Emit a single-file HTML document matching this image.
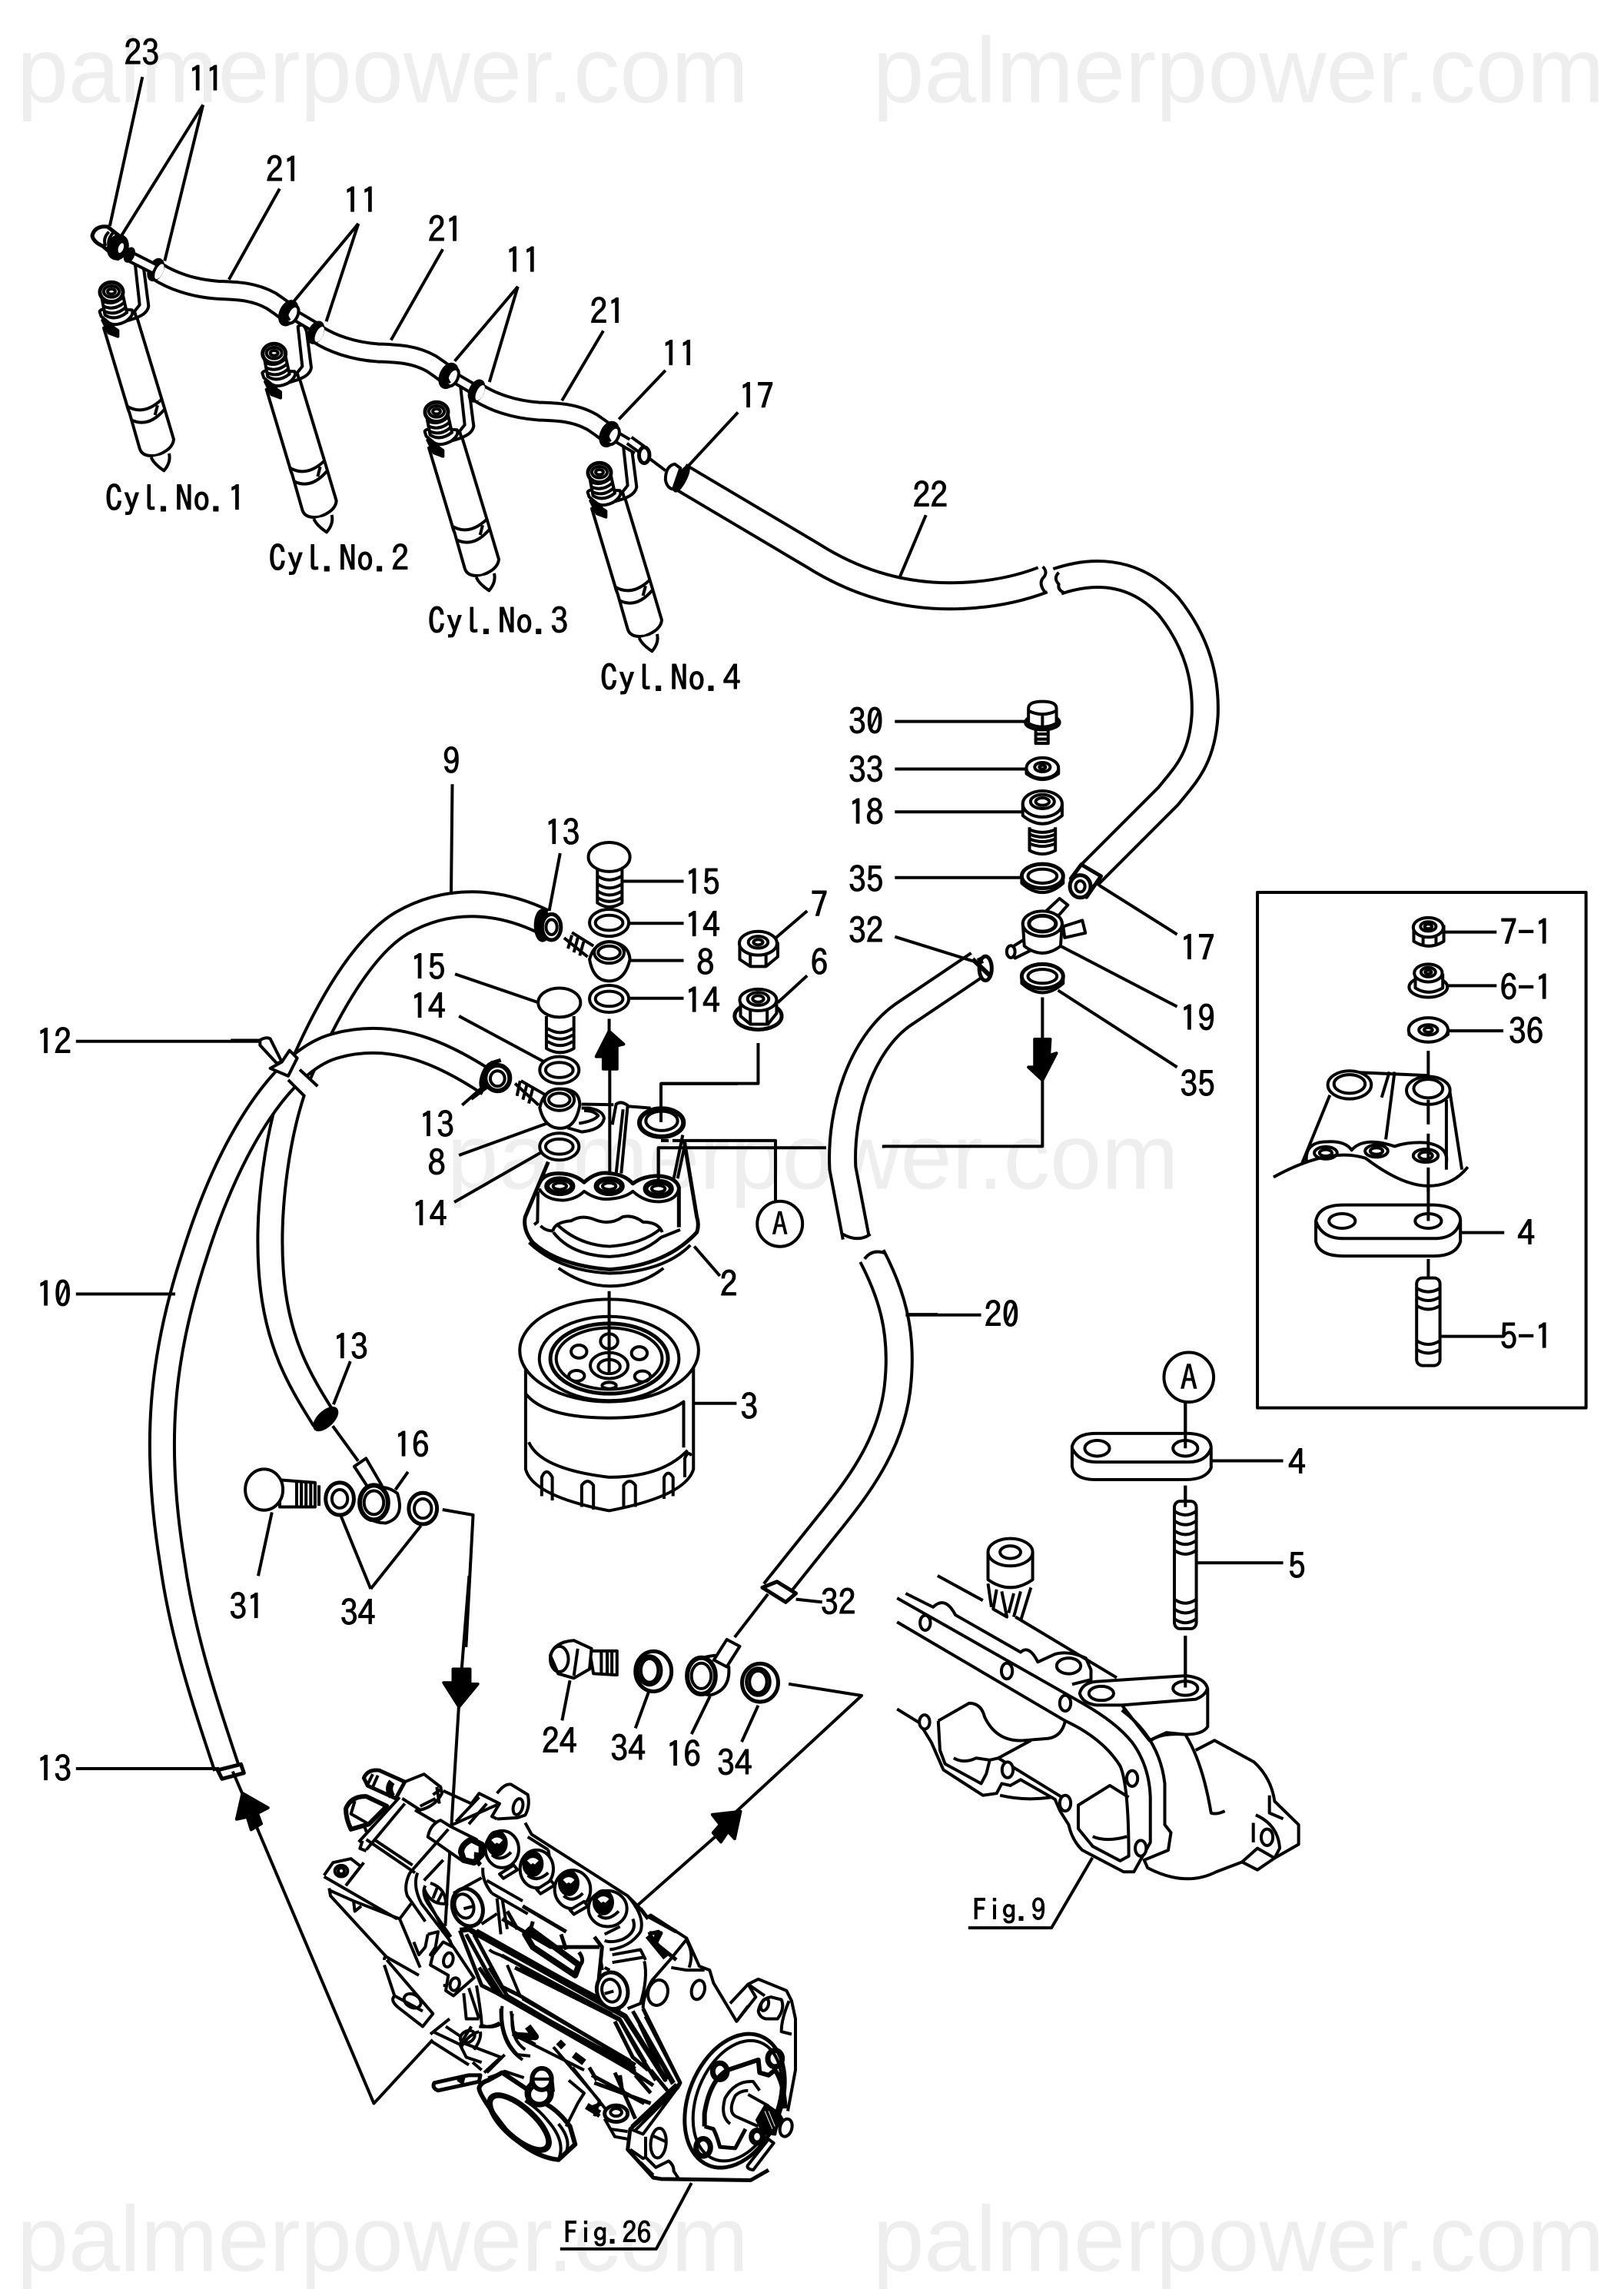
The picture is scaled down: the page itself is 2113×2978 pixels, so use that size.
<!DOCTYPE html>
<html><head><meta charset="utf-8"><style>
html,body{margin:0;padding:0;background:#fff}
svg{display:block}
svg *{vector-effect:non-scaling-stroke}
.w text{font-family:"Liberation Sans",sans-serif;font-size:63.5px;fill:#eeeeee;stroke:none}
.l text{font-family:"IPAGothic","Liberation Sans",sans-serif;font-size:24px;fill:#000;stroke:#000;stroke-width:1px;text-anchor:middle}
.f{fill:#fff}.k{fill:#000}.t{stroke-width:6}.n{stroke-width:3}
</style></head><body>
<svg xmlns="http://www.w3.org/2000/svg" width="2113" height="2978" viewBox="0 0 1112 1567.3" preserveAspectRatio="none" fill="none" stroke="#000" stroke-width="4" stroke-linejoin="round">
<defs>
<path id="t9" d="M372,631 C345,618 310,612 275,632 C245,650 220,700 205,735 C190,770 182,830 186,875 C190,920 205,945 222,972"/>
<path id="t10" d="M335,742 C305,722 270,705 230,716 C195,725 158,780 133,860 C110,930 105,990 118,1070 C125,1120 140,1165 155,1210"/>
<path id="t22a" d="M465,326 L556,380 Q600,408 650,408 Q685,408 714,397"/>
<path id="t22b" d="M724,398 C745,391 775,388 800,415 C820,440 826,465 825,490 C823,520 812,530 800,545 L745,600"/>
<path id="t20a" d="M670,660 L618,695 C590,715 575,760 577,800 L586,847"/>
<path id="t20b" d="M597,860 C610,885 618,910 615,945 C612,985 590,1015 570,1040 L530,1090"/>
<g id="inj">
<path class="f" d="M228,225 L245,380 L225,405 L232,430 Q275,415 280,385 L262,245 Q250,205 228,225 Z"/>
<path class="f" d="M105,470 L195,770 Q200,790 205,800 L245,940 Q255,975 310,968 Q375,945 378,905 L335,760 L235,430 Z"/>
<path d="M195,775 Q260,815 330,750 M215,830 Q280,860 340,790 M315,772 L305,810"/>
<path class="f" d="M290,975 Q300,1000 340,1027 Q368,995 360,960"/>
<path class="f" d="M90,410 Q85,400 110,395 L215,400 Q225,420 190,445 Q150,465 125,450 L95,425 Z"/>
<path class="k" d="M100,440 L160,480 L160,503 L125,490 L115,470 Z"/>
<path class="f" d="M95,340 L110,420 Q150,445 195,410 L175,320 Z"/>
<path d="M100,365 Q140,385 180,350 M104,385 Q145,405 186,370 M108,405 Q150,425 190,390"/>
<ellipse cx="135" cy="330" rx="45" ry="38" class="f" stroke-width="5"/><ellipse cx="135" cy="328" rx="30" ry="22"/><ellipse cx="135" cy="328" rx="15" ry="10"/>
</g>
<g id="seg">
<path d="M315,250 C370,285 450,315 550,322 C620,325 690,325 760,365 Q790,385 820,408" stroke-width="27"/>
<path d="M315,250 C370,285 450,315 550,322 C620,325 690,325 760,365 Q790,385 820,408" stroke="#fff" stroke-width="19"/>
<ellipse cx="308" cy="243" rx="24" ry="42" class="k" transform="rotate(25 308 243)"/>
<ellipse cx="322" cy="250" rx="14" ry="32" class="f" stroke="none" transform="rotate(25 322 250)"/>
<path d="M850,420 L935,470" stroke-width="16"/><path d="M850,420 L935,470" stroke="#fff" stroke-width="8"/>
<ellipse cx="826" cy="412" rx="30" ry="48" class="k" transform="rotate(25 826 412)"/>
<ellipse cx="842" cy="418" rx="20" ry="36" class="f" transform="rotate(25 842 418)"/>
<path d="M825,395 Q815,420 832,440" stroke-width="3"/>
</g>
</defs>

<g class="w">
<text x="11.5" y="70">palmerpower.com</text>
<text x="597.5" y="70">palmerpower.com</text>
<text x="306" y="814">palmerpower.com</text>
<text x="11.5" y="1555">palmerpower.com</text>
<text x="597.5" y="1555">palmerpower.com</text>
</g>

<g transform="scale(.3546,.319)">
<path d="M275,165 L212,485 M392,225 L235,505 M392,225 L318,560 M540,405 L442,600 M692,480 L565,650 M692,480 L630,690 M855,535 L755,730 M1000,615 L878,775 M1000,615 L945,820 M1165,710 L1085,860 M1285,795 L1195,900 M1425,885 L1325,1005"/>
</g>

<g transform="scale(.52626) translate(100,270) scale(.33333)">
<use href="#inj"/><use href="#inj" transform="translate(635,240)"/><use href="#inj" transform="translate(1269,468)"/><use href="#inj" transform="translate(1905,705)"/>
<use href="#seg"/><use href="#seg" transform="translate(625,245)"/><use href="#seg" transform="translate(1252,473)"/>
<path d="M205,190 L300,238" stroke-width="16"/><path d="M205,190 L300,238" stroke="#fff" stroke-width="8"/>
<ellipse cx="205" cy="185" rx="14" ry="26" class="k" transform="rotate(25 205 185)"/>
<path class="f" d="M120,75 Q70,70 60,110 Q65,135 100,150 L160,200 L190,130 Z" stroke-width="5"/>
<path d="M125,95 Q100,120 112,150 M140,100 Q115,130 128,162"/>
<ellipse cx="160" cy="155" rx="36" ry="46" class="k" transform="rotate(20 160 155)"/>
<ellipse cx="172" cy="158" rx="16" ry="26" class="f" transform="rotate(20 172 158)"/>
</g>
<g transform="scale(.3546,.319)">
<path d="M1215,945 L1240,965" stroke-width="14"/><path d="M1215,945 L1240,965" stroke="#fff" stroke-width="6"/>
<ellipse cx="1244" cy="977" rx="10" ry="17" class="f" stroke-width="5"/>
<path d="M1255,985 L1285,1010"/>
</g>

<use href="#t22a" stroke-width="38"/><use href="#t22a" stroke="#fff" stroke-width="30"/>
<use href="#t22b" stroke-width="38"/><use href="#t22b" stroke="#fff" stroke-width="30"/>
<use href="#t20a" stroke-width="38"/><use href="#t20a" stroke="#fff" stroke-width="30"/>
<use href="#t20b" stroke-width="38"/><use href="#t20b" stroke="#fff" stroke-width="30"/>
<use href="#t9" stroke-width="36"/><use href="#t9" stroke="#fff" stroke-width="28"/>
<use href="#t10" stroke-width="36"/><use href="#t10" stroke="#fff" stroke-width="28"/>
<path d="M714,388 Q718,392 714,396 Q711,400 716,406 M725,392 Q721,396 725,400 Q724,404 729,406 M577,845 Q588,851 596,845 M592,862 Q597,855 606,858"/>
<g transform="scale(.3546,.319)">
<ellipse cx="1316" cy="1028" rx="7" ry="28" class="k" transform="rotate(25 1316 1028)"/>
<path class="f" d="M1285,1030 Q1285,1000 1303,996 L1314,1005 L1300,1050 Q1288,1048 1285,1030 Z"/>
</g>

<!-- Z2 -->
<g transform="translate(556,316) scale(.3546,.319)">
<path d="M220,115 L168,252"/>
<path d="M160,558 L415,558 M160,660 L412,660 M160,752 L405,752 M160,893 L405,893 M160,1020 L310,1072 M555,910 L705,1015 M480,1040 L705,1170 M475,1135 L705,1300"/>
<path d="M445,1150 L445,1470 L138,1470"/>
<path class="k" d="M430,1240 L460,1240 L458,1275 L472,1270 L445,1328 L418,1300 L430,1300 Z"/>
<path class="f" d="M432,570 L432,605 L456,605 L456,570"/><path d="M432,585 L456,585 M432,596 L456,596"/>
<ellipse cx="445" cy="560" rx="33" ry="16" class="f"/>
<path class="f" d="M418,530 Q418,515 445,515 Q472,515 472,530 L472,562 Q445,578 418,562 Z"/><path d="M418,535 Q445,550 472,535 M445,545 L445,570"/>
<path class="f" d="M414,660 L414,670 Q445,695 476,670 L476,660"/>
<ellipse cx="445" cy="658" rx="31" ry="22" class="f"/><ellipse cx="445" cy="656" rx="15" ry="10"/><ellipse cx="445" cy="656" rx="6" ry="4"/>
<path class="f" d="M420,785 L420,835 Q445,850 470,835 L470,785"/>
<path d="M420,800 Q445,812 470,800 M420,810 Q445,822 470,810 M420,820 Q445,832 470,820 M420,790 Q445,802 470,790"/>
<path class="f" d="M407,735 L407,760 Q445,795 483,760 L483,735"/>
<ellipse cx="445" cy="735" rx="38" ry="28" class="f"/><ellipse cx="445" cy="730" rx="23" ry="15"/><ellipse cx="445" cy="730" rx="13" ry="8"/>
<path class="f" d="M405,890 L405,905 Q445,945 485,905 L485,890"/><ellipse cx="445" cy="890" rx="40" ry="26" class="f" stroke-width="5"/><ellipse cx="445" cy="890" rx="28" ry="15"/>
<path class="f" d="M405,1105 L405,1120 Q445,1160 485,1120 L485,1105"/><ellipse cx="445" cy="1105" rx="40" ry="26" class="f" stroke-width="5"/><ellipse cx="445" cy="1105" rx="28" ry="15"/>
<path class="f" d="M500,895 L520,865 L558,890 L530,935 Z" stroke-width="5"/>
<ellipse cx="518" cy="912" rx="20" ry="24" class="f" stroke-width="5"/><ellipse cx="518" cy="912" rx="9" ry="12"/>
<path class="f" d="M452,965 L478,938 L494,952 L470,982 Z M485,998 L522,985 L528,1012 L488,1022 Z M378,1048 L415,1022 L425,1048 L392,1066 Z"/>
<path class="f" d="M407,990 L410,1040 Q445,1070 480,1040 L483,990"/>
<ellipse cx="445" cy="992" rx="38" ry="27" class="f"/><ellipse cx="445" cy="992" rx="26" ry="17" stroke-width="5"/>
<ellipse cx="384" cy="1052" rx="8" ry="13" class="f"/>
<ellipse cx="335" cy="1088" rx="12" ry="26" class="f" stroke-width="5"/>
<path d="M310,1068 L345,1105 M322,1065 L328,1078" stroke-width="6"/>
<path class="f" d="M1162,995 L1162,1030 Q1190,1050 1220,1030 L1220,995"/><path d="M1180,1038 L1180,1005 M1205,1036 L1205,1005"/>
<ellipse cx="1190" cy="1000" rx="29" ry="21" class="f"/><ellipse cx="1190" cy="998" rx="15" ry="10"/><ellipse cx="1190" cy="998" rx="7" ry="5"/>
<path d="M1222,1010 L1322,1010"/>
<ellipse cx="1190" cy="1128" rx="37" ry="22" class="f"/>
<path class="f" d="M1165,1100 L1165,1130 Q1190,1148 1218,1130 L1218,1100"/>
<ellipse cx="1190" cy="1098" rx="27" ry="19" class="f"/><ellipse cx="1190" cy="1096" rx="14" ry="10"/><ellipse cx="1190" cy="1096" rx="6" ry="4"/>
<path d="M1228,1125 L1322,1125"/>
<path class="f" d="M1153,1222 L1153,1230 Q1190,1262 1228,1230 L1228,1222"/>
<ellipse cx="1190" cy="1220" rx="38" ry="26" class="f"/><ellipse cx="1190" cy="1220" rx="18" ry="11"/><ellipse cx="1190" cy="1220" rx="8" ry="5"/>
<path d="M1228,1222 L1335,1222 M1190,1265 L1190,1348"/>
<path d="M1000,1360 L945,1510 M1030,1310 L1190,1318 M1232,1355 L1255,1520 M1225,1370 L1225,1520 M1115,1310 L1100,1365 M1125,1310 L1108,1455"/>
<ellipse cx="1038" cy="1338" rx="42" ry="30" class="f"/><ellipse cx="1038" cy="1336" rx="30" ry="20"/>
<ellipse cx="1190" cy="1350" rx="42" ry="30" class="f"/><ellipse cx="1190" cy="1346" rx="28" ry="20"/>
<path d="M1190,1370 L1190,1570" stroke-dasharray="32,12"/>
<path d="M955,1505 Q950,1460 995,1460 Q1030,1458 1042,1478 Q1065,1448 1125,1470 Q1150,1460 1185,1462 Q1230,1470 1225,1505"/>
<ellipse cx="992" cy="1484" rx="22" ry="13"/><ellipse cx="992" cy="1484" rx="12" ry="7"/>
<ellipse cx="1090" cy="1480" rx="22" ry="13"/><ellipse cx="1090" cy="1480" rx="12" ry="7"/>
<ellipse cx="1185" cy="1490" rx="24" ry="14"/><ellipse cx="1185" cy="1490" rx="13" ry="8"/>
</g>
<rect x="861" y="611" width="225" height="353" stroke-width="4"/>
<path d="M872,806 Q910,785 935,793 Q960,812 978,812 Q995,812 1005,799"/>
<path class="f" d="M901,836 Q903,825 920,825 L982,825 Q1000,826 1000,836 L1000,850 Q997,860 982,860 L920,860 Q903,860 901,850 Z"/>
<path d="M901,836 Q905,848 920,848 L982,848 Q997,848 1000,836"/>
<ellipse cx="919" cy="836" rx="9" ry="5"/><ellipse cx="978" cy="836" rx="9" ry="5"/>
<path d="M1000,844 L1030,844 M978,812 L978,836 M978,862 L978,876 M987,915 L1030,915"/>
<rect x="970" y="875" width="16" height="60" rx="4" class="f"/>
<path d="M970,882 Q978,887 986,882 M970,888 Q978,893 986,888 M970,894 Q978,899 986,894 M970,918 Q978,923 986,918 M970,924 Q978,929 986,924"/>

<!-- Z3 -->
<g transform="translate(158,500) scale(.2685,.3693)">
<path d="M565,100 L562,305 M840,228 L812,335 M1000,280 L1155,280 M1015,358 L1155,358 M1015,427 L1155,427 M1015,497 L1155,497 M1470,335 L1390,385 M1470,455 L1395,505"/>
<path d="M572,452 L785,505 M582,530 L800,615 M590,695 L645,660 M582,788 L810,728 M570,875 L810,775"/>
<path d="M0,575 L75,575"/>
<path d="M1345,580 L1345,655 L1097,655"/>
<path class="k" d="M965,558 L1002,582 L985,585 L985,628 L950,628 L950,605 L932,605 Z"/>
<path d="M965,535 L965,560"/>
<path class="f" d="M1298,395 L1298,425 L1325,438 L1365,438 L1395,420 L1395,395 Z"/><path d="M1325,408 L1325,438 M1365,408 L1365,438"/>
<ellipse cx="1345" cy="395" rx="48" ry="22" class="f"/><ellipse cx="1345" cy="393" rx="25" ry="11"/><ellipse cx="1345" cy="393" rx="12" ry="5"/>
<ellipse cx="1345" cy="530" rx="60" ry="25" class="f" stroke-width="5"/>
<path class="f" d="M1300,500 L1300,530 L1325,545 L1370,545 L1392,525 L1392,500 Z"/><path d="M1325,515 L1325,545 M1368,515 L1368,545"/>
<ellipse cx="1345" cy="500" rx="47" ry="20" class="f"/><ellipse cx="1345" cy="498" rx="27" ry="12"/><ellipse cx="1345" cy="498" rx="14" ry="6"/>
<path class="f" d="M935,255 L935,320 Q965,335 998,320 L998,255"/>
<path d="M935,285 Q965,300 998,285 M935,298 Q965,313 998,298 M935,310 Q965,325 998,310 M935,270 Q965,285 998,270"/>
<ellipse cx="965" cy="235" rx="53" ry="27" class="f"/>
<ellipse cx="965" cy="357" rx="50" ry="25" class="f"/><ellipse cx="965" cy="357" rx="35" ry="14"/>
<path d="M850,385 L910,420 M870,375 L925,400 M870,380 L860,405 M885,385 L875,412 M900,392 L890,418"/>
<path class="f" d="M915,425 Q925,395 965,392 Q1015,395 1018,425 Q1005,465 965,465 Q925,465 915,425 Z"/>
<ellipse cx="965" cy="412" rx="38" ry="20"/><ellipse cx="965" cy="412" rx="28" ry="12"/>
<ellipse cx="965" cy="498" rx="50" ry="25" class="f"/><ellipse cx="965" cy="498" rx="35" ry="14"/>
<ellipse cx="795" cy="362" rx="18" ry="28" class="k"/><ellipse cx="818" cy="365" rx="24" ry="24" class="f" stroke-width="5"/><ellipse cx="818" cy="365" rx="14" ry="14"/>
<path class="f" d="M805,530 L805,590 Q840,605 875,590 L875,530"/>
<path d="M808,565 Q840,580 872,565 M808,577 Q840,592 872,577 M808,553 Q840,568 872,553"/>
<ellipse cx="838" cy="505" rx="54" ry="27" class="f"/>
<ellipse cx="838" cy="630" rx="50" ry="25" class="f"/><ellipse cx="838" cy="630" rx="35" ry="14"/>
</g>

<!-- Frame F -->
<g transform="scale(.52626) translate(660,1380) scale(.33333)">
<path d="M400,0 L400,480 M600,240 L600,90 L900,90 M590,490 L590,340 L1245,340 M600,312 L630,312 M645,312 L1047,312 L1047,565 M730,725 L830,840"/>
<path d="M160,395 L70,610 Q60,660 100,710 Q200,800 400,815 Q620,800 740,670 Q750,640 740,610 L690,310" stroke-width="5"/>
<path d="M85,710 Q200,820 400,830 Q610,825 715,720 M200,810 Q300,880 400,880 Q520,880 610,810"/>
<path d="M650,460 L685,290 M665,460 L695,320"/>
<path d="M410,250 L425,170 Q445,155 470,175 L445,440 M425,440 L452,190 M290,170 L415,172 M470,178 L560,185"/>
<path class="f" d="M290,190 L320,185 Q370,195 375,225 Q370,265 290,275 L235,260 Z" stroke="none"/>
<path d="M290,185 L320,185 Q375,195 378,225 Q370,270 290,278 L235,262 M280,245 Q340,235 355,215 Q340,195 300,195"/>
<ellipse cx="602" cy="242" rx="86" ry="55" class="f" stroke-width="6"/><ellipse cx="603" cy="235" rx="62" ry="38" class="f"/>
<path d="M600,240 L600,200"/>
<path d="M125,480 Q140,440 200,440 Q260,440 300,475 Q350,430 400,440 Q460,445 490,480 Q530,450 590,450 Q660,455 670,495 L670,650" stroke-width="5" class="f"/>
<path d="M125,500 Q150,545 220,545 Q270,540 300,510 Q350,545 400,540 Q460,535 490,510 Q540,555 600,550 Q660,545 670,500"/>
<path d="M120,510 L118,630 L105,640 M130,645 Q150,665 180,665 M178,665 Q185,630 250,625 Q290,600 340,620 Q400,645 450,610 Q490,600 530,630 Q590,630 605,670 M195,640 Q280,720 400,725 Q530,715 600,655 M180,670 Q250,760 400,765 Q520,760 600,690 Q650,670 675,660"/>
<ellipse cx="205" cy="490" rx="50" ry="28" stroke-width="7"/><ellipse cx="205" cy="490" rx="26" ry="13"/>
<ellipse cx="398" cy="490" rx="50" ry="28" stroke-width="7"/><ellipse cx="398" cy="490" rx="26" ry="13"/>
<ellipse cx="590" cy="500" rx="50" ry="28" stroke-width="7"/><ellipse cx="590" cy="500" rx="26" ry="13"/>
<path d="M590,490 L590,340"/>
</g>

<!-- Z3b -->
<g transform="translate(158,500) scale(.2685,.3693)">
<path d="M725,655 L785,695 M740,650 L800,675 M738,650 L730,678 M755,658 L745,685 M770,665 L760,692"/>
<path class="f" d="M788,700 Q798,665 840,665 Q890,665 890,695 Q880,738 840,738 Q800,738 788,700 Z"/>
<ellipse cx="838" cy="685" rx="38" ry="20"/><ellipse cx="838" cy="685" rx="27" ry="12"/>
<ellipse cx="838" cy="772" rx="50" ry="25" class="f"/><ellipse cx="838" cy="772" rx="35" ry="14"/>
<path class="f" d="M752,1180 L752,1370 Q770,1420 965,1447 Q1160,1420 1180,1370 L1180,1180 Z"/>
<path d="M752,1230 Q800,1275 965,1275 Q1100,1275 1155,1245 L1155,1330 M760,1320 Q790,1370 965,1385 Q1100,1385 1165,1335"/>
<path d="M793,1420 L793,1385 Q805,1365 820,1385 L820,1428 M895,1440 L895,1400 Q910,1385 925,1400 L925,1445 M1002,1442 L1002,1400 Q1017,1385 1032,1400 L1032,1440 M1105,1425 L1105,1385 Q1115,1370 1128,1385 L1128,1420 M1158,1385 L1158,1350 Q1166,1335 1175,1345"/>
<ellipse cx="965" cy="1150" rx="228" ry="95" class="f"/>
<ellipse cx="965" cy="1165" rx="178" ry="78"/>
<ellipse cx="965" cy="1165" rx="150" ry="65" stroke-width="5"/>
<ellipse cx="965" cy="1165" rx="135" ry="57"/>
<ellipse cx="965" cy="1178" rx="48" ry="24"/><ellipse cx="965" cy="1180" rx="28" ry="13"/>
<ellipse cx="965" cy="1133" rx="22" ry="14"/>
<ellipse cx="888" cy="1152" rx="20" ry="12"/><ellipse cx="1042" cy="1155" rx="20" ry="12"/>
<ellipse cx="882" cy="1197" rx="20" ry="10"/><ellipse cx="1050" cy="1198" rx="20" ry="10"/><ellipse cx="965" cy="1215" rx="18" ry="6"/>
<path d="M965,1040 L965,1190"/>
<path d="M1180,1248 L1290,1248"/>
<ellipse cx="242" cy="1277" rx="32" ry="14" class="k" transform="rotate(-30 242 1277)"/>
<path d="M305,1170 L262,1250 M260,1290 L325,1355"/>
<path class="f" d="M315,1365 L345,1350 L385,1400 L360,1415 Z"/>
<path class="f" d="M345,1410 Q390,1395 425,1415 Q445,1460 395,1470 Q350,1470 330,1440 Z"/>
<ellipse cx="365" cy="1432" rx="36" ry="32" class="f" stroke-width="6"/><ellipse cx="365" cy="1432" rx="25" ry="22"/>
<path d="M420,1408 L452,1375"/>
<path class="f" d="M125,1390 L215,1395 L215,1440 L125,1440 Z"/>
<path d="M180,1392 L180,1438 M192,1392 L192,1440 M204,1392 L204,1440 M168,1392 L168,1438 M225,1400 L225,1438"/>
<ellipse cx="85" cy="1408" rx="48" ry="38" class="f"/>
<ellipse cx="278" cy="1425" rx="36" ry="30" class="f" stroke-width="5"/><ellipse cx="278" cy="1425" rx="20" ry="17"/>
<ellipse cx="490" cy="1443" rx="36" ry="29" class="f" stroke-width="5"/><ellipse cx="490" cy="1443" rx="22" ry="18"/>
<path d="M105,1450 L70,1568 M280,1455 L357,1592 M485,1475 L357,1592 M540,1445 L618,1455 L600,1700"/>
</g>

<!-- Frame D -->
<g transform="scale(.52626) translate(280,1340) scale(.33333)">
<path class="f" d="M330,155 L400,220 L350,260 L285,195 Z" stroke="none"/>
<path d="M330,155 L400,220 M285,195 L350,260"/>
<path class="f" d="M175,40 Q200,25 215,35 L260,125 L290,80 L320,110 L285,180 L215,150 L260,125 L240,130 L175,60 Z"/>
<path d="M1000,270 L1060,225"/>
<ellipse cx="1062" cy="180" rx="20" ry="52" class="k" transform="rotate(20 1062 180)"/>
<ellipse cx="1102" cy="188" rx="48" ry="50" class="f" stroke-width="6"/><ellipse cx="1102" cy="190" rx="28" ry="30"/>
<path d="M1075,130 L1115,118" stroke-width="5"/>
</g>

<ellipse cx="534" cy="838" rx="15.5" ry="15.5" class="f" stroke-width="4"/>
<ellipse cx="814" cy="943" rx="17" ry="17" class="f" stroke-width="4"/>

<path class="f" d="M149,1212 L165,1208 L167,1214 L152,1218 Z" stroke-width="5"/>
<path d="M52,1211 L150,1211 M52,886 L120,886 M52,713 L178,713"/>
<path d="M532,1083 L522,1087 L538,1097 L545,1091 Z" class="f" stroke-width="5"/>
<path d="M545,1095 L563,1097 M642,900 L622,900"/>
<path d="M540,1153 L590,1161 L497,1247"/>
<path d="M604,785 L606,785"/>

<!-- Z4 -->
<g transform="translate(158,1079) scale(.2685,.3114)">
<path d="M865,230 L845,318 M1068,250 L1032,335 M1222,265 L1175,348 M1345,285 L1303,365"/>
<path class="f" d="M915,165 L985,165 L985,218 L925,215 Z"/><path d="M945,168 L945,215 M960,165 L960,218 M972,165 L972,218"/>
<path class="f" d="M815,175 Q825,145 875,142 L920,160 L915,205 L875,225 L835,215 Z"/><ellipse cx="838" cy="183" rx="23" ry="28"/><path d="M885,160 L875,220"/>
<ellipse cx="1078" cy="210" rx="46" ry="44" class="f" stroke-width="5"/><ellipse cx="1068" cy="208" rx="30" ry="32"/><ellipse cx="1068" cy="208" rx="22" ry="26"/>
<path class="f" d="M1235,175 L1270,200 Q1275,250 1225,262 Q1170,260 1165,215 Q1175,180 1235,175 Z"/>
<ellipse cx="1200" cy="220" rx="36" ry="40" class="f" stroke-width="6"/><ellipse cx="1200" cy="220" rx="25" ry="28"/>
<path class="f" d="M1232,185 L1265,140 L1298,155 L1265,200 Z"/><path d="M1285,135 L1370,40"/>
<ellipse cx="1350" cy="235" rx="46" ry="42" class="f" stroke-width="5"/><ellipse cx="1345" cy="233" rx="30" ry="30"/><ellipse cx="1345" cy="233" rx="22" ry="24"/>
<path d="M608,0 L582,280 L547,770"/>
<path class="k" d="M567,205 L610,205 L610,238 L630,238 L582,288 L543,235 L567,235 Z"/>
<path d="M5,430 L30,480"/>
<path class="k" d="M30,478 L95,510 L68,522 L78,545 L52,558 L42,530 L15,535 Z"/>
<path d="M65,550 L365,1160 L515,1020"/>
<path class="k" d="M1300,518 L1228,525 L1248,547 L1230,565 L1250,585 L1268,562 L1285,578 Z"/>
<path d="M1030,730 L1260,555"/>
<path d="M840,1480 L1085,1480 L1175,1335" stroke-width="4"/>
</g>

<!-- Frame A -->
<g transform="scale(.52626) translate(420,2250) scale(.33333)">
<path d="M5,570 L40,520 L110,505 L148,535 L90,610"/><ellipse cx="72" cy="553" rx="25" ry="22"/><ellipse cx="72" cy="553" rx="12" ry="12"/>
<path d="M5,575 L290,740 M25,620 L30,650 L250,890 M30,630 L120,670 L300,740 L380,930 M120,670 L125,710 L150,690 M300,740 L345,680 M90,610 L160,520"/>
<path d="M240,900 Q240,880 260,895 L375,960 M240,920 L280,1040 Q260,1060 300,1090 L390,1160 L430,1110 L250,900 M280,1040 L390,1100 M355,830 L375,880 L400,850 L410,800"/>
<ellipse cx="350" cy="1060" rx="35" ry="25" transform="rotate(30 350 1060)"/>
<path class="f" d="M160,190 Q175,155 220,160 L320,205 L285,270 L175,220 Z" stroke-width="5"/>
<path d="M270,205 Q250,230 270,262" stroke-width="9"/>
<path d="M195,175 L175,215 M215,180 L195,225"/>
<path class="f" d="M90,310 Q110,260 170,262 L250,300 L180,370 L110,390 Q90,350 90,310 Z" stroke-width="6"/>
<path d="M125,280 L110,330 L180,370"/>
<path d="M300,265 L140,440 M320,290 L170,470 M155,435 L145,465 L170,475 M160,370 L170,400"/>
<path d="M320,205 L395,175 L460,225 L465,250 Q440,300 380,315 L310,270 M380,300 L440,270 M430,255 L460,235 M445,225 L455,290"/>
<path d="M170,430 L360,560 M200,430 L350,530 M360,315 L555,430 M470,240 L580,290"/>
<path d="M580,290 L610,250 L690,290 L500,375 M610,265 L520,360 M640,290 L570,370 M690,290 L660,340 L680,350"/>
<path d="M680,250 Q710,210 735,215 L800,255 Q810,300 790,335 L760,345 L680,350"/><ellipse cx="762" cy="302" rx="18" ry="32" transform="rotate(15 762 302)"/>
<path d="M790,365 L815,410 L1190,650 L1240,700 M800,420 L880,470 M880,470 L885,500"/>
<path class="f" d="M410,420 Q420,370 460,355 L500,380 L600,430 L540,510 L440,440 Z"/>
<path d="M540,480 Q540,450 580,430 L620,450 L620,490 L590,520 L550,510 Z" class="f" stroke-width="8"/>
<path d="M600,480 Q595,510 615,530" stroke-width="6"/>
<g class="f">
<ellipse cx="700" cy="468" rx="65" ry="72"/><ellipse cx="835" cy="545" rx="65" ry="74"/><ellipse cx="975" cy="625" rx="70" ry="75"/><ellipse cx="1112" cy="700" rx="75" ry="70"/>
</g>
<g class="k" stroke-width="4">
<ellipse cx="680" cy="445" rx="36" ry="45"/><ellipse cx="820" cy="525" rx="36" ry="45"/><ellipse cx="960" cy="600" rx="36" ry="45"/><ellipse cx="1095" cy="675" rx="36" ry="45"/>
</g>
<g stroke="#fff" stroke-width="7">
<path d="M665,440 Q680,425 695,440"/><path d="M805,520 Q820,505 835,520"/><path d="M945,595 Q960,580 975,595"/><path d="M1080,670 Q1095,655 1110,670"/>
</g>
<path d="M660,490 Q695,520 735,480 M800,570 Q835,600 880,560 M940,650 Q975,680 1015,640 M1075,725 Q1110,755 1155,710"/>
<path class="f" d="M690,565 L745,530 L760,548 L705,582 Z M835,625 L890,590 L905,608 L850,642 Z M965,705 L1020,672 L1035,690 L980,722 Z"/>
<path d="M1190,650 Q1260,730 1240,790 Q1200,850 1120,860 M1210,740 Q1230,790 1170,820 Q1130,835 1100,825 M1130,880 L1240,860 L1260,900 M1100,800 L1160,770"/>
<path d="M340,560 L490,390 M340,560 Q315,610 330,650 L400,750 M370,560 Q350,610 385,680 L500,830 M395,590 L470,510 M400,610 Q385,640 410,680 L500,810"/>
<path d="M420,600 Q480,620 480,680 M395,620 Q420,690 490,680 M450,610 L430,660 M470,630 L445,680"/>
<ellipse cx="565" cy="695" rx="58" ry="75" class="f" stroke-width="5" transform="rotate(-20 565 695)"/>
<ellipse cx="552" cy="690" rx="36" ry="48" transform="rotate(-20 552 690)"/>
<path d="M550,700 L590,690 M510,640 L620,580 M625,540 Q620,590 660,640 M640,590 L780,670 M660,640 L800,720 M680,660 L695,800 M700,660 L720,780 M620,760 L680,720"/>
<path d="M470,1000 L560,1000"/>
<path d="M400,650 L560,945 M410,800 L450,790 L440,850 L420,880 L470,900"/>
<path class="f" d="M470,830 L510,850 L590,970 L510,1040 L480,1020 L490,960 L420,920 L430,880 Z"/>
<ellipse cx="490" cy="900" rx="18" ry="28" transform="rotate(15 490 900)"/><ellipse cx="515" cy="995" rx="18" ry="25" transform="rotate(15 515 995)"/>
<path d="M535,785 L570,780 L1180,1120 L1340,1370" stroke-width="7"/>
<path d="M535,785 L620,1000 L680,1030 L1220,1340 M560,800 L670,1000 M580,790 L1160,1110 M600,785 L1160,1100 M590,800 L700,1005 L770,1040 L1220,1310" stroke-width="5"/>
<path d="M650,860 Q660,870 690,880 L1160,1130 L1260,1300 M720,920 L770,1040"/>
<path d="M700,880 L1130,1110" stroke-width="3"/>
<path d="M600,790 L1160,1090" stroke-width="3"/>
<path class="f" d="M790,800 L810,780 L1000,920 L985,960 L820,850 Z" stroke-width="8"/>
<path d="M820,750 L810,785 M930,800 L950,860 M1000,870 Q1030,910 990,930" stroke-width="5"/>
<path d="M700,740 L890,850 L1080,850 M720,710 L760,780 M780,690 L950,790 M1060,810 L1090,850 L1075,1000 M1085,910 L1090,940" stroke-width="5"/>
<path d="M1270,730 L1380,790 M1270,800 L1310,790 L1290,830 M1240,700 L1270,740 M1280,820 L1380,900" stroke-width="5"/>
<path d="M600,1000 Q620,1120 620,1155 Q660,1170 695,1150 M570,1010 L610,1130 M550,1030 L560,1130 L610,1130 M695,1090 Q690,1230 780,1290 M735,1100 L745,1180 L830,1230"/>
<path d="M420,1190 L495,1130 M420,1215 L570,1310 M430,1180 L535,1230 L580,1160 M535,1230 L560,1280 L620,1300 M480,1160 L540,1200"/>
<ellipse cx="565" cy="1200" rx="30" ry="22" transform="rotate(-30 565 1200)"/>
</g>

<!-- Frame C -->
<g transform="scale(.52626) translate(560,2560) scale(.33333)">
<path d="M190,230 Q240,235 270,215 M280,150 Q270,270 340,340 L390,345 M320,180 Q310,280 370,320 M320,260 L600,400 M480,310 L660,520 L640,580 M555,390 L690,560 M540,440 L600,490 L575,530 L545,590"/>
<path d="M640,450 L860,530 M630,420 L835,530 M740,420 L750,490 M720,410 L800,590 M620,390 L650,440 M670,530 L620,550 L660,580" stroke-width="5"/>
<path d="M190,0 L260,100 L350,145 L790,385 M210,0 L280,110 L800,395 M230,0 L300,110 L800,405 M360,120 L780,365 M330,0 L740,205 M350,0 L720,195" stroke-width="5"/>
<path d="M720,210 L790,350 L850,400 M740,205 L810,330 L880,440 M790,170 L950,450 M840,190 L975,450 M860,400 L925,480 M780,400 L870,460 M800,420 L860,490" stroke-width="5"/>
<path d="M380,230 L410,270 L330,265 M500,290 L520,310 M560,340 L600,370 M610,540 L660,570" stroke-width="9"/>
<path class="f" d="M15,450 L150,420 L195,420 L190,445 L30,480 Q5,470 15,450 Z" stroke-width="5"/>
<path class="k" d="M110,440 L130,430 L125,450 Z"/>
<path d="M130,295 L275,350 L210,410 M165,370 L200,400 M120,310 Q150,260 190,250 M170,320 Q200,280 195,250 M220,410 L290,340 M225,430 Q260,420 290,405 L365,430"/>
<path class="f" d="M190,470 Q190,500 300,640 Q400,740 500,750 L565,690 L545,620 Q500,560 455,535 L370,470 L280,410 L225,440 Q195,450 190,470 Z" stroke-width="6"/>
<ellipse cx="347" cy="605" rx="150" ry="62" transform="rotate(42 347 605)" stroke-width="5"/>
<ellipse cx="347" cy="605" rx="138" ry="52" transform="rotate(42 347 605)" stroke-width="3"/>
<path d="M500,750 Q530,680 460,600 Q420,550 370,520 M530,720 Q550,670 500,610 M545,590 L530,620"/>
<ellipse cx="425" cy="490" rx="50" ry="48" class="f" stroke-width="5"/><ellipse cx="425" cy="495" rx="38" ry="35"/>
<ellipse cx="435" cy="435" rx="38" ry="42" class="f" stroke-width="6"/>
<path d="M385,480 L395,435 L475,435 L480,485"/>
<ellipse cx="725" cy="570" rx="45" ry="32" class="f" stroke-width="5"/><ellipse cx="725" cy="565" rx="22" ry="15"/>
<path d="M680,590 L720,660 L775,670 M700,630 L770,640"/>
</g>

<!-- Frame B -->
<g transform="scale(.52626) translate(680,2400) scale(.33333)">
<path d="M485,285 L500,275 L640,365 L690,475 L730,490 L745,540 L835,690 L880,630"/>
<path d="M810,620 L880,545 L920,525 L1030,570 L1050,610 L1065,680 L1065,880 L1035,1040 M835,690 L910,595 L880,545 M880,545 L945,590"/>
<path d="M920,650 Q930,600 970,595 L1010,605 Q1025,640 995,680 L950,680 Q925,675 920,650 Z"/><ellipse cx="945" cy="625" rx="14" ry="24" transform="rotate(20 945 625)"/>
<path d="M1040,610 Q1010,680 1010,730 L1050,740"/>
<ellipse cx="528" cy="578" rx="38" ry="50" transform="rotate(15 528 578)"/><ellipse cx="685" cy="567" rx="25" ry="38" transform="rotate(15 685 567)"/>
<path d="M580,480 L640,490 L710,490 M640,370 L575,450 L505,530 Q470,590 470,640 M640,375 Q670,420 650,480"/>
<path d="M490,355 L560,440" stroke-width="9"/>
<path d="M495,345 L540,345 L520,385" stroke-width="5"/>
<path d="M470,640 L615,930 L590,960 L420,1110 L410,1190 L510,1300 L540,1305 L890,1310 L960,1270" stroke-width="5"/>
<path d="M435,660 L585,935 M455,700 L560,925 M425,1100 L600,935 M440,1115 L610,945"/>
<path d="M420,1110 L470,1130 L615,935 M480,1140 L480,1220 L520,1260 L570,1235 Q590,1250 590,1275 L610,1305 M420,1190 L470,1225 L480,1220 M460,1240 L510,1290"/>
<ellipse cx="530" cy="1165" rx="30" ry="58" transform="rotate(5 530 1165)"/><path d="M505,1135 L560,1160"/>
<path d="M475,455 Q490,520 460,620 L410,640 M350,460 L470,440 M320,480 L340,490"/>
<ellipse cx="350" cy="570" rx="60" ry="72" class="f" stroke-width="5" transform="rotate(-15 350 570)"/><ellipse cx="345" cy="570" rx="35" ry="45" transform="rotate(-15 345 570)"/>
<path d="M320,582 L355,572"/>
<ellipse cx="828" cy="1000" rx="180" ry="272" transform="rotate(22 828 1000)" stroke-width="5"/>
<ellipse cx="838" cy="1000" rx="158" ry="245" transform="rotate(22 838 1000)" class="f"/>
<path d="M710,1100 L710,1050 Q730,920 800,880 L920,840 L925,890 L960,900 L985,880 Q1020,930 1025,1030" stroke-width="6"/>
<path d="M710,1100 L745,1110 Q760,1140 770,1180 L830,1185 L870,1110" stroke-width="5"/>
<path d="M810,1090 Q770,1060 790,990 Q830,920 900,925 L925,960 M830,1060 Q800,1040 830,980 Q850,960 880,960"/>
<path d="M880,975 L960,1020 M830,1060 L920,1100"/>
<path class="k" d="M950,1015 L1000,1050 L1015,1075 Q990,1090 985,1130 L940,1125 L915,1075 Z"/>
<path d="M945,1040 L975,1110 M960,1040 L985,1100" stroke="#fff" stroke-width="1"/>
<ellipse cx="1028" cy="1105" rx="23" ry="35" class="f" transform="rotate(15 1028 1105)"/>
<ellipse cx="770" cy="885" rx="28" ry="32" stroke-width="7"/><ellipse cx="985" cy="835" rx="28" ry="32" stroke-width="7"/><ellipse cx="705" cy="1182" rx="28" ry="34" stroke-width="7"/><ellipse cx="915" cy="1140" rx="22" ry="25" stroke-width="7"/>
<path class="f" d="M880,1250 L960,1150 L980,1165 L900,1270 Q870,1265 880,1250 Z"/>
</g>

<!-- Z5 -->
<g transform="translate(579,895) scale(.235,.2685)">
<path d="M175,20 L395,20 M990,240 L990,360 M1065,392 L1275,392 M990,455 L990,510 M1022,652 L1275,652 M990,838 L990,970"/>
<path class="f" d="M660,355 Q670,322 730,322 L1000,322 Q1065,325 1065,360 L1065,410 Q1050,440 990,440 L730,440 Q665,440 660,405 Z"/>
<path d="M660,360 Q680,395 730,395 L1000,395 Q1050,395 1065,360"/>
<ellipse cx="733" cy="360" rx="36" ry="20"/><ellipse cx="990" cy="360" rx="36" ry="20"/>
<path d="M990,240 L990,360"/>
<rect x="958" y="495" width="64" height="325" rx="16" class="f"/>
<path d="M958,520 Q990,540 1022,520 M958,545 Q990,565 1022,545 M958,570 Q990,590 1022,570 M958,595 Q990,615 1022,595 M958,620 Q990,640 1022,620 M958,745 Q990,765 1022,745 M958,770 Q990,790 1022,770 M958,795 Q990,815 1022,795"/>
<path d="M990,455 L990,510"/>
<path class="f" d="M415,625 L415,695 Q480,735 545,695 L545,625"/>
<ellipse cx="480" cy="625" rx="65" ry="35" class="f"/><ellipse cx="480" cy="625" rx="30" ry="16"/>
<path d="M415,705 L425,765 M440,720 L430,770 L470,790 L455,725 M490,730 L475,780 M510,725 L490,790 M540,715 L510,800"/>
<path d="M268,685 L400,748 M495,790 L790,945"/>
<path d="M175,730 L255,765 Q290,735 320,785 L510,880 Q535,860 560,905 L610,885 Q650,875 700,895 L715,925 L715,950 L660,962"/>
<ellipse cx="650" cy="915" rx="35" ry="20"/>
<path d="M150,742 L690,1010 Q790,1060 835,1110 Q885,1170 888,1250 L888,1365 L840,1440 L810,1440 L690,1385 Q660,1360 650,1320 L625,1285 L610,1255 L510,1205 L480,1220 L455,1215 L440,1240 L400,1245 L285,1180 L250,1110 L215,1060 L150,1025"/>
<path d="M150,803 L640,1055 Q750,1100 800,1170 Q825,1220 825,1400 L800,1412 L720,1375 L678,1330 L678,1270 L770,1220 L825,1250"/>
<path d="M270,1055 L360,1010 Q395,1010 405,1045 Q440,1110 520,1105 L590,1100 Q630,1095 640,1055 M270,1055 L275,1130 L290,1165 L395,1215 L410,1190 L420,1155 L445,1150 L540,1105 M315,1150 Q345,1165 380,1150 L420,1155 M445,1150 L640,1255 M450,1245 Q520,1260 600,1250 M720,1350 Q760,1365 820,1350"/>
<g class="f"><ellipse cx="232" cy="805" rx="15" ry="19"/><ellipse cx="470" cy="928" rx="16" ry="20"/><ellipse cx="640" cy="1010" rx="16" ry="20"/><ellipse cx="230" cy="1058" rx="15" ry="18"/><ellipse cx="472" cy="1180" rx="16" ry="20"/><ellipse cx="640" cy="1265" rx="16" ry="20"/><ellipse cx="835" cy="1202" rx="16" ry="20"/><ellipse cx="860" cy="1380" rx="16" ry="20"/></g>
<path class="f" d="M682,985 Q690,958 730,955 L990,940 Q1050,945 1055,975 L1055,1070 Q1040,1090 990,1090 L935,1085 L885,1105 L805,1015 L730,1015 Q690,1010 682,985 Z"/>
<path d="M805,1015 L1020,1000 Q1050,990 1055,970"/>
<ellipse cx="745" cy="985" rx="36" ry="18"/><ellipse cx="990" cy="972" rx="36" ry="18"/>
<path d="M990,838 L990,970"/>
<path d="M890,1105 Q920,1085 990,1090 Q1040,1160 1065,1290 Q1080,1295 1105,1285"/>
<path d="M1020,1130 L1075,1105 L1190,1160 Q1240,1200 1250,1260 L1320,1320 L1320,1370 L1250,1405 L1200,1435 L1155,1415 L1080,1440 Q990,1480 880,1430 L870,1410 L940,1385 L948,1340 L930,1320 L930,1215 Q915,1100 805,1028"/>
<path d="M1195,1295 Q1260,1320 1265,1380 L1250,1405 L1200,1380 L1155,1415 M1188,1315 L1188,1365 M1235,1245 L1235,1290 L1275,1305"/>
<ellipse cx="1228" cy="1352" rx="17" ry="21"/>
</g>
<path d="M663,1320 L720,1320 L748,1272"/>

<!-- labels -->
<g class="l">
<text x="97" y="45">23</text><text x="141" y="63">11</text><text x="194" y="125">21</text><text x="247" y="146">11</text><text x="305" y="166">21</text><text x="358" y="187">11</text><text x="416" y="222">21</text><text x="465" y="251">11</text><text x="518" y="280">17</text><text x="637" y="348">22</text>
<text x="120" y="350">Cyl.No.1</text><text x="232" y="391">Cyl.No.2</text><text x="341" y="434">Cyl.No.3</text><text x="459" y="473">Cyl.No.4</text>
<text x="593" y="503">30</text><text x="593" y="536">33</text><text x="593" y="565">18</text><text x="593" y="611">35</text><text x="593" y="646">32</text><text x="820" y="658">17</text><text x="820" y="706">19</text><text x="820" y="751">35</text>
<text x="309" y="530">9</text><text x="385" y="579">13</text><text x="481" y="613">15</text><text x="481" y="642">14</text><text x="483" y="668">8</text><text x="481" y="694">14</text><text x="561" y="628">7</text><text x="561" y="668">6</text><text x="293" y="671">15</text><text x="293" y="698">14</text><text x="37" y="722">12</text><text x="299" y="779">13</text><text x="299" y="805">8</text><text x="294" y="840">14</text><text x="499" y="888">2</text><text x="513" y="972">3</text><text x="37" y="895">10</text><text x="240" y="931">13</text><text x="282" y="998">16</text><text x="169" y="1109">31</text><text x="245" y="1113">34</text><text x="37" y="1220">13</text><text x="383" y="1201">24</text><text x="430" y="1206">34</text><text x="468" y="1210">16</text><text x="503" y="1216">34</text><text x="574" y="1106">32</text><text x="686" y="909">20</text><text x="888" y="1010">4</text><text x="888" y="1081">5</text>
<text x="1045" y="647">7-1</text><text x="1045" y="685">6-1</text><text x="1045" y="715">36</text><text x="1045" y="853">4</text><text x="1045" y="924">5-1</text>
<text x="534" y="846" style="font-size:22px;stroke-width:.5px">A</text><text x="814" y="952" style="font-size:24px;stroke-width:.5px">A</text>
<text x="691" y="1315" style="font-size:20px">Fig.9</text><text x="416" y="1536" style="font-size:20px">Fig.26</text>
</g>
</svg>
</body></html>
